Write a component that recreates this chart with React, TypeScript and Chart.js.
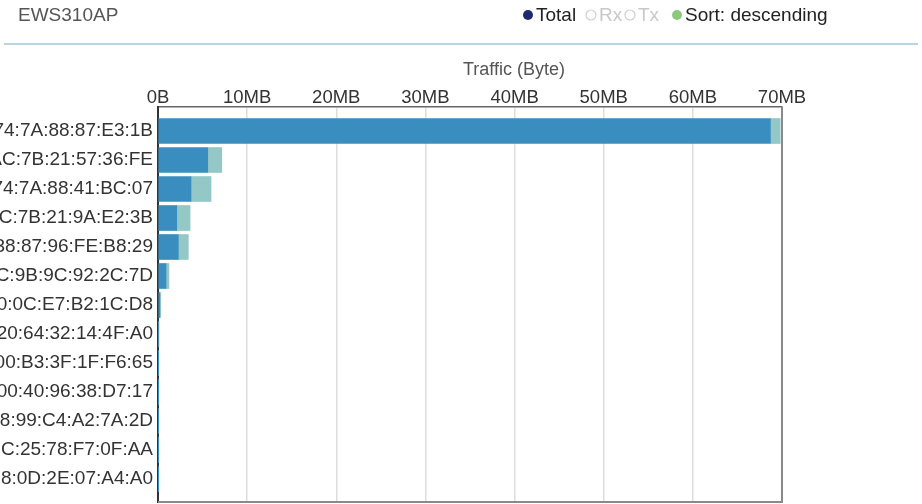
import React, { useEffect, useRef } from "react";
import { Chart, registerables } from "chart.js";

Chart.register(...registerables);

const categories = [
  "74:7A:88:87:E3:1B",
  "AC:7B:21:57:36:FE",
  "74:7A:88:41:BC:07",
  "AC:7B:21:9A:E2:3B",
  "38:87:96:FE:B8:29",
  "EC:9B:9C:92:2C:7D",
  "00:0C:E7:B2:1C:D8",
  "20:64:32:14:4F:A0",
  "00:B3:3F:1F:F6:65",
  "00:40:96:38:D7:17",
  "E8:99:C4:A2:7A:2D",
  "5C:25:78:F7:0F:AA",
  "B8:0D:2E:07:A4:A0",
];

// Traffic in MB
const rxValues = [68.7, 5.58, 3.7, 2.1, 2.28, 0.9, 0.22, 0.08, 0.02, 0.01, 0.005, 0.005, 0.005];
const txValues = [1.1, 1.57, 2.25, 1.5, 1.12, 0.33, 0.05, 0.02, 0.01, 0.005, 0.003, 0.003, 0.003];

const xTicks = [0, 10, 20, 30, 40, 50, 60, 70];
const tickLabel = (v: number) => (v === 0 ? "0B" : `${v}MB`);

const title = "EWS310AP";
const axisTitle = "Traffic (Byte)";
const legendItems = [
  { label: "Total", color: "#1f2a6e", text: "#222", filled: true },
  { label: "Rx", color: "#cfcfcf", text: "#c8c8c8", filled: false },
  { label: "Tx", color: "#cfcfcf", text: "#c8c8c8", filled: false },
  { label: "Sort: descending", color: "#8cc97d", text: "#222", filled: true },
];

const FONT = "'Liberation Sans', Arial, sans-serif";

const decorPlugin = {
  id: "decor",
  beforeDraw(chart: any) {
    const ctx = chart.ctx;
    ctx.save();
    ctx.fillStyle = "#555";
    ctx.font = `19px ${FONT}`;
    ctx.textBaseline = "middle";
    ctx.textAlign = "left";
    ctx.fillText(title, 18, 16);
    const positions = [528, 591, 630, 677];
    legendItems.forEach((it, i) => {
      const cx = positions[i];
      ctx.beginPath();
      ctx.arc(cx, 15, 5, 0, Math.PI * 2);
      if (it.filled) {
        ctx.fillStyle = it.color;
        ctx.fill();
      } else {
        ctx.strokeStyle = it.color;
        ctx.lineWidth = 1.2;
        ctx.stroke();
      }
      ctx.fillStyle = it.text;
      ctx.fillText(it.label, cx + 8, 16);
    });
    ctx.strokeStyle = "#bcd3e3";
    ctx.lineWidth = 2;
    ctx.beginPath();
    ctx.moveTo(4, 44);
    ctx.lineTo(918, 44);
    ctx.stroke();
    ctx.fillStyle = "#555";
    ctx.font = `18px ${FONT}`;
    ctx.textAlign = "center";
    ctx.fillText(axisTitle, 514, 70);
    ctx.restore();
  },
  afterDraw(chart: any) {
    const { ctx, chartArea } = chart;
    ctx.save();
    ctx.strokeStyle = "#8a8a8a";
    ctx.lineWidth = 2;
    ctx.beginPath();
    ctx.moveTo(chartArea.right, chartArea.top);
    ctx.lineTo(chartArea.right, chartArea.bottom);
    ctx.lineTo(chartArea.left, chartArea.bottom);
    ctx.stroke();
    ctx.restore();
  },
};

export default function App() {
  const ref = useRef<HTMLCanvasElement | null>(null);

  useEffect(() => {
    if (!ref.current) return;
    const chart = new Chart(ref.current, {
      type: "bar",
      data: {
        datasets: [
          {
            label: "Rx",
            data: rxValues.map((v, i) => ({ x: v, y: i })),
            backgroundColor: "#3a8ebf",
            barThickness: 25,
          },
          {
            label: "Tx",
            data: txValues.map((v, i) => ({ x: v, y: i })),
            backgroundColor: "#94c8c7",
            barThickness: 25,
          },
        ],
      },
      options: {
        indexAxis: "y",
        responsive: false,
        animation: false,
        layout: { padding: { top: 77, right: 140, bottom: 2, left: 0 } },
        plugins: { legend: { display: false }, tooltip: { enabled: false } },
        scales: {
          x: {
            type: "linear",
            position: "top",
            stacked: true,
            offset: false,
            min: 0,
            max: 70,
            afterFit: (s: any) => {
              s.height = 30;
              s.paddingLeft = 0;
              s.paddingRight = 0;
            },
            afterBuildTicks: (s: any) => {
              s.ticks = xTicks.map((v) => ({ value: v }));
            },
            ticks: {
              callback: (v: any) => tickLabel(Number(v)),
              color: "#333",
              font: { family: FONT, size: 18.5, lineHeight: 1 },
              padding: 0,
              maxRotation: 0,
              autoSkip: false,
            },
            grid: { color: "#dddddd", lineWidth: 1.5, drawTicks: false, offset: false },
            border: { display: true, color: "#666", width: 1.5 },
          },
          y: {
            type: "linear",
            reverse: true,
            stacked: true,
            offset: false,
            min: -0.828,
            max: 12.793,
            afterFit: (s: any) => {
              s.width = 158;
              s.paddingTop = 0;
              s.paddingBottom = 0;
            },
            afterBuildTicks: (s: any) => {
              s.ticks = categories.map((_, i) => ({ value: i }));
            },
            ticks: {
              callback: (v: any) => categories[Number(v)] ?? "",
              color: "#333",
              font: { family: FONT, size: 19 },
              padding: 5,
              autoSkip: false,
            },
            grid: { display: false, drawTicks: false, offset: false },
            border: { display: true, color: "#333", width: 2 },
          },
        },
      },
      plugins: [decorPlugin],
    } as any);
    return () => chart.destroy();
  }, []);

  return (
    <div style={{ position: "fixed", left: 0, top: 0, width: 922, height: 504, background: "#fff" }}>
      <canvas ref={ref} width={922} height={504} style={{ display: "block" }} />
    </div>
  );
}
